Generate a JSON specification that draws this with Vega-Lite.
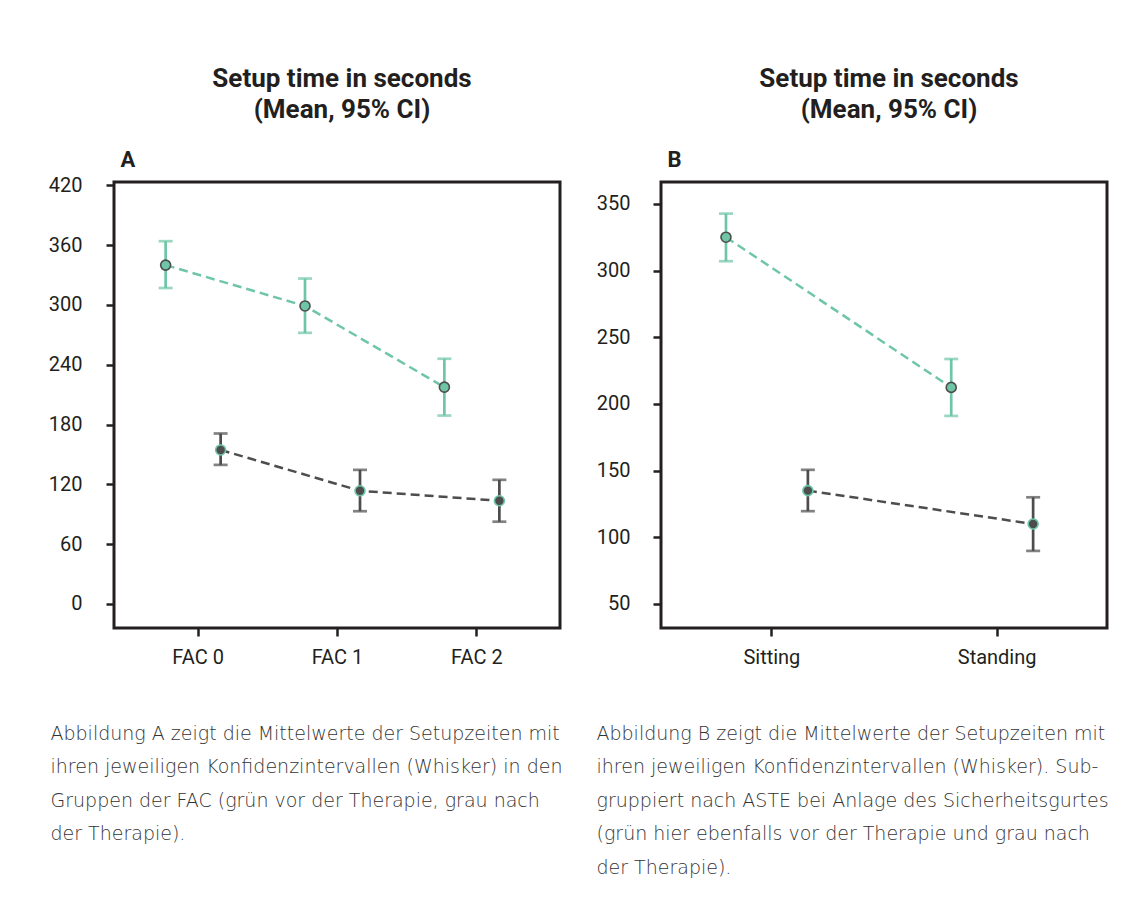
{
  "$schema": "https://vega.github.io/schema/vega-lite/v6.json",
  "background": "white",
  "padding": {"left": 46, "top": 64, "right": 10, "bottom": 10},
  "bounds": "flush",
  "spacing": 101,
  "config": {
    "font": "Roboto",
    "view": {"stroke": "#231f20", "strokeWidth": 3},
    "axis": {
      "domain": false,
      "grid": false,
      "tickColor": "#231f20",
      "tickWidth": 2.5,
      "tickSize": 8,
      "labelFont": "Roboto",
      "labelFontSize": 20,
      "labelColor": "#231f20"
    },
    "title": {"font": "Roboto", "fontSize": 26, "fontWeight": "bold", "color": "#231f20", "lineHeight": 31}
  },
  "datasets": {
    "fac": [
      {"group": "FAC 0", "phase": "vor", "mean": 340, "lo": 317, "hi": 364},
      {"group": "FAC 1", "phase": "vor", "mean": 299, "lo": 272, "hi": 326.5},
      {"group": "FAC 2", "phase": "vor", "mean": 217.5, "lo": 189, "hi": 246},
      {"group": "FAC 0", "phase": "nach", "mean": 154.5, "lo": 139.5, "hi": 171},
      {"group": "FAC 1", "phase": "nach", "mean": 113.5, "lo": 93, "hi": 134.5},
      {"group": "FAC 2", "phase": "nach", "mean": 103.5, "lo": 82.5, "hi": 124.5}
    ],
    "aste": [
      {"group": "Sitting", "phase": "vor", "mean": 325, "lo": 307, "hi": 342.7},
      {"group": "Standing", "phase": "vor", "mean": 212.4, "lo": 191, "hi": 233.7},
      {"group": "Sitting", "phase": "nach", "mean": 135, "lo": 119.6, "hi": 150.6},
      {"group": "Standing", "phase": "nach", "mean": 110, "lo": 89.8, "hi": 130}
    ]
  },
  "hconcat": [
    {
      "width": 446,
      "height": 446,
      "title": {"text": ["Setup time in seconds", "(Mean, 95% CI)"], "frame": "group", "anchor": "middle", "offset": 25, "dx": 5},
      "data": {"name": "fac"},
      "encoding": {
        "x": {
          "field": "group", "type": "nominal",
          "scale": {"type": "point", "padding": 0.6, "domain": ["FAC 0", "FAC 1", "FAC 2"]},
          "axis": {
            "labelAngle": 0, "labelPadding": 11,
            "title": ["Abbildung A zeigt die Mittelwerte der Setupzeiten mit", "ihren jeweiligen Konfidenzintervallen (Whisker) in den", "Gruppen der FAC (grün vor der Therapie, grau nach", "der Therapie)."],
            "titleX": -64, "titleY": 111, "titleAlign": "left", "titleBaseline": "alphabetic",
            "titleFont": "DejaVu Sans", "titleFontSize": 19, "titleFontWeight": 300, "titleColor": "#333333", "titleLineHeight": 33.5, "titleLimit": 700
          }
        },
        "xOffset": {"field": "phase", "type": "nominal", "scale": {"type": "point", "padding": 0, "domain": ["vor", "nach"], "range": [-32, 23]}}
      },
      "layer": [
        {
          "mark": {"type": "line", "strokeDash": [9, 5], "strokeWidth": 2.5},
          "encoding": {
            "y": {
              "field": "mean", "type": "quantitative",
              "scale": {"domain": [-24.2, 423.4], "nice": false, "zero": false},
              "axis": {
                "values": [0, 60, 120, 180, 240, 300, 360, 420], "labelPadding": 24,
                "title": "A", "titleAngle": 0, "titleX": 6, "titleY": -16, "titleAlign": "left", "titleBaseline": "alphabetic",
                "titleFontSize": 22, "titleFontWeight": "bold", "titleColor": "#231f20"
              }
            },
            "color": {"field": "phase", "type": "nominal", "scale": {"domain": ["vor", "nach"], "range": ["#6fc6a6", "#4d4d4d"]}, "legend": null}
          }
        },
        {
          "mark": {"type": "rule", "strokeWidth": 2.7},
          "encoding": {
            "y": {"field": "lo", "type": "quantitative"},
            "y2": {"field": "hi"},
            "color": {"field": "phase", "type": "nominal", "legend": null}
          }
        },
        {
          "mark": {"type": "tick", "orient": "horizontal", "size": 14, "thickness": 2.7},
          "encoding": {
            "y": {"field": "lo", "type": "quantitative"},
            "color": {"field": "phase", "type": "nominal", "legend": null}
          }
        },
        {
          "mark": {"type": "tick", "orient": "horizontal", "size": 14, "thickness": 2.7},
          "encoding": {
            "y": {"field": "hi", "type": "quantitative"},
            "color": {"field": "phase", "type": "nominal", "legend": null}
          }
        },
        {
          "mark": {"type": "point", "filled": true, "size": 100, "strokeWidth": 1.6, "opacity": 1},
          "encoding": {
            "y": {"field": "mean", "type": "quantitative"},
            "fill": {"field": "phase", "type": "nominal", "scale": {"domain": ["vor", "nach"], "range": ["#6fc6a6", "#4d4d4d"]}, "legend": null},
            "stroke": {"field": "phase", "type": "nominal", "scale": {"domain": ["vor", "nach"], "range": ["#4d4d4d", "#6fc6a6"]}, "legend": null}
          }
        }
      ]
    },
    {
      "width": 446,
      "height": 446,
      "title": {"text": ["Setup time in seconds", "(Mean, 95% CI)"], "frame": "group", "anchor": "middle", "offset": 25, "dx": 5},
      "data": {"name": "aste"},
      "encoding": {
        "x": {
          "field": "group", "type": "nominal",
          "scale": {"type": "point", "padding": 0.49, "domain": ["Sitting", "Standing"]},
          "axis": {
            "labelAngle": 0, "labelPadding": 11,
            "title": ["Abbildung B zeigt die Mittelwerte der Setupzeiten mit", "ihren jeweiligen Konfidenzintervallen (Whisker). Sub-", "gruppiert nach ASTE bei Anlage des Sicherheitsgurtes", "(grün hier ebenfalls vor der Therapie und grau nach", "der Therapie)."],
            "titleX": -65, "titleY": 111, "titleAlign": "left", "titleBaseline": "alphabetic",
            "titleFont": "DejaVu Sans", "titleFontSize": 19, "titleFontWeight": 300, "titleColor": "#333333", "titleLineHeight": 33.5, "titleLimit": 700
          }
        },
        "xOffset": {"field": "phase", "type": "nominal", "scale": {"type": "point", "padding": 0, "domain": ["vor", "nach"], "range": [-45.4, 36.5]}}
      },
      "layer": [
        {
          "mark": {"type": "line", "strokeDash": [9, 5], "strokeWidth": 2.5},
          "encoding": {
            "y": {
              "field": "mean", "type": "quantitative",
              "scale": {"domain": [32, 366.4], "nice": false, "zero": false},
              "axis": {
                "values": [50, 100, 150, 200, 250, 300, 350], "labelPadding": 23,
                "title": "B", "titleAngle": 0, "titleX": 6, "titleY": -16, "titleAlign": "left", "titleBaseline": "alphabetic",
                "titleFontSize": 22, "titleFontWeight": "bold", "titleColor": "#231f20"
              }
            },
            "color": {"field": "phase", "type": "nominal", "scale": {"domain": ["vor", "nach"], "range": ["#6fc6a6", "#4d4d4d"]}, "legend": null}
          }
        },
        {
          "mark": {"type": "rule", "strokeWidth": 2.7},
          "encoding": {
            "y": {"field": "lo", "type": "quantitative"},
            "y2": {"field": "hi"},
            "color": {"field": "phase", "type": "nominal", "legend": null}
          }
        },
        {
          "mark": {"type": "tick", "orient": "horizontal", "size": 14, "thickness": 2.7},
          "encoding": {
            "y": {"field": "lo", "type": "quantitative"},
            "color": {"field": "phase", "type": "nominal", "legend": null}
          }
        },
        {
          "mark": {"type": "tick", "orient": "horizontal", "size": 14, "thickness": 2.7},
          "encoding": {
            "y": {"field": "hi", "type": "quantitative"},
            "color": {"field": "phase", "type": "nominal", "legend": null}
          }
        },
        {
          "mark": {"type": "point", "filled": true, "size": 100, "strokeWidth": 1.6, "opacity": 1},
          "encoding": {
            "y": {"field": "mean", "type": "quantitative"},
            "fill": {"field": "phase", "type": "nominal", "scale": {"domain": ["vor", "nach"], "range": ["#6fc6a6", "#4d4d4d"]}, "legend": null},
            "stroke": {"field": "phase", "type": "nominal", "scale": {"domain": ["vor", "nach"], "range": ["#4d4d4d", "#6fc6a6"]}, "legend": null}
          }
        }
      ]
    }
  ],
  "resolve": {"scale": {"x": "independent", "y": "independent", "xOffset": "independent"}}
}
